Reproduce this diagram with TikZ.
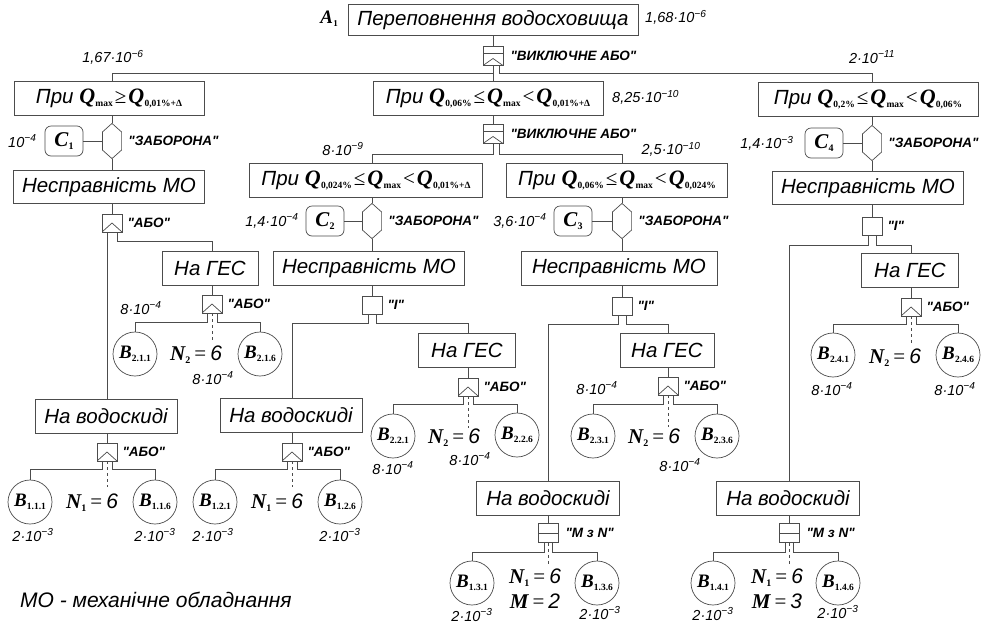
\documentclass[tikz,border=0pt]{standalone}
\usepackage{fontspec}
\setmainfont{Liberation Sans}
\newfontfamily\tnr{Liberation Serif}
\newfontfamily\gatefont{Liberation Sans}
\usetikzlibrary{positioning,calc}

% letter with subscript: {letter}{sub}{size}{subsize}
\newcommand{\sv}[4]{{\tnr\bfseries\itshape\fontsize{#3}{#3}\selectfont #1}\kern0.3pt\raisebox{-3pt}{\tnr\bfseries\upshape\fontsize{#4}{#4}\selectfont #2}}
\newcommand{\Qv}[1]{\sv{Q}{#1}{22}{9.5}}
\newcommand{\Bv}[1]{\sv{B}{#1}{19}{9.5}}
\newcommand{\Cv}[1]{\sv{C}{#1}{21}{10}}
\newcommand{\Nv}[1]{\sv{N}{#1}{21}{10}}
\newcommand{\Mv}{{\tnr\bfseries\itshape M}}
\newcommand{\rel}[1]{\kern2pt{\tnr\upshape\fontsize{21}{21}\selectfont #1}\kern2pt}
\newcommand{\eqv}[1]{\kern4pt{\tnr\upshape =}\kern4pt{\itshape #1}}
\newcommand{\pr}[2]{#1·10\textsuperscript{−#2}}

\tikzstyle{glabel} = [
    font=\gatefont\bfseries\itshape\fontsize{13.5}{15}\selectfont,
    inner sep=0pt
]

\begin{document}
\begin{tikzpicture}[x=1pt, y=-1pt,
        lin/.style={draw=black!70, line width=0.7pt},
        eventbox/.style={
            rectangle, lin,
            minimum height=34pt, inner sep=2pt,
            font=\itshape\fontsize{20.5}{22}\selectfont
        },
        condbox/.style={
            rectangle, rounded corners=6pt, lin,
            minimum width=38pt, minimum height=30pt, inner sep=0pt
        },
        basicev/.style={circle, lin, minimum size=44pt, inner sep=0pt},
        prob/.style={font=\itshape\fontsize{14.5}{16}\selectfont, inner sep=0pt},
        nlabel/.style={inner sep=0pt, align=center, font=\fontsize{21}{25}\selectfont},
        gatebox/.style={rectangle, lin, minimum width=20pt, minimum height=18pt, inner sep=0pt},
        andgate/.style={gatebox},
        orgate/.style={gatebox,
            path picture={\draw[lin] (path picture bounding box.south west) -- ([yshift=9pt]path picture bounding box.south) -- (path picture bounding box.south east);}
        },
        xorgate/.style={gatebox, minimum height=19pt,
            path picture={
                \draw[lin] ([yshift=-7pt]path picture bounding box.north west) -- ([yshift=-7pt]path picture bounding box.north east);
                \draw[lin] (path picture bounding box.south west) -- ([yshift=7pt]path picture bounding box.south) -- (path picture bounding box.south east);}
        },
        mngate/.style={gatebox, minimum height=19pt,
            path picture={\draw[lin] (path picture bounding box.west) -- (path picture bounding box.east);}
        },
        inhibit/.style={
            rectangle, minimum width=20pt, minimum height=36pt, inner sep=0pt,
            path picture={
                \draw[lin] ([yshift=-0.4pt]path picture bounding box.north)
                    -- ([xshift=-0.4pt,yshift=-9pt]path picture bounding box.north east)
                    -- ([xshift=-0.4pt,yshift=9pt]path picture bounding box.south east)
                    -- ([yshift=0.4pt]path picture bounding box.south)
                    -- ([xshift=0.4pt,yshift=9pt]path picture bounding box.south west)
                    -- ([xshift=0.4pt,yshift=-9pt]path picture bounding box.north west) -- cycle;}
        }
    ]
    \useasboundingbox[fill=white] (0,0) rectangle (984,630);

    % top event
    \node[eventbox, minimum width=290pt, minimum height=31pt] (top) at (493,20) {Переповнення водосховища};
    \node[anchor=east, inner sep=0pt] (a1) at (338,19) {\sv{A}{1}{19}{9}};
    \node[prob, anchor=west] (ptop) at (645,17) {\pr{1,68}{6}};
    \node[xorgate] (xo1) at (493,56) {};
    \node[glabel, right=7pt of xo1] {"ВИКЛЮЧНЕ АБО"};

    \node[eventbox, minimum width=190pt] (l1) at (109,98) {При \Qv{max}\rel{≥}\Qv{0,01\%+Δ}};
    \node[eventbox, minimum width=230pt] (m1) at (488,98) {При \Qv{0,06\%}\rel{≤}\Qv{max}\rel{<}\Qv{0,01\%+Δ}};
    \node[eventbox, minimum width=220pt] (r1) at (868,99) {При \Qv{0,2\%}\rel{≤}\Qv{max}\rel{<}\Qv{0,06\%}};
    \node[prob] at (113,57) {\pr{1,67}{6}};
    \node[prob, anchor=west] at (612,97) {\pr{8,25}{10}};
    \node[prob] at (872,57) {\pr{2}{11}};

    % left branch
    \node[inhibit] (hx1) at (112,141) {};
    \node[condbox] (c1) at (64,141) {\Cv{1}};
    \node[prob, left=8pt of c1] {10\textsuperscript{−4}};
    \node[glabel, right=6pt of hx1] {"ЗАБОРОНА"};
    \node[eventbox, minimum width=191pt, minimum height=33pt] (lf) at (109,187) {Несправність МО};
    \node[orgate] (or1) at (112,223) {};
    \node[glabel, right=5pt of or1] {"АБО"};
    \node[eventbox, minimum width=96pt] (lg) at (210,268) {На ГЕС};
    \node[orgate] (or2) at (212,304) {};
    \node[glabel, right=5pt of or2] {"АБО"};
    \node[basicev] (b211) at (135,354) {\Bv{2.1.1}};
    \node[basicev] (b216) at (260,354) {\Bv{2.1.6}};
    \node[nlabel] (n21) at (196,355) {\Nv{2}\eqv{6}};
    \node[prob] at (141,308) {\pr{8}{4}};
    \node[prob] at (213,378) {\pr{8}{4}};
    \node[eventbox, minimum width=142pt] (lv) at (106,416) {На водоскиді};
    \node[orgate] (or7) at (107,452) {};
    \node[glabel, right=5pt of or7] {"АБО"};
    \node[basicev] (b111) at (30,502) {\Bv{1.1.1}};
    \node[basicev] (b116) at (155,502) {\Bv{1.1.6}};
    \node[nlabel] (n11) at (92,503) {\Nv{1}\eqv{6}};
    \node[prob] at (33,535) {\pr{2}{3}};
    \node[prob] at (155,535) {\pr{2}{3}};

    % middle branch
    \node[xorgate] (xo2) at (493,134) {};
    \node[glabel, right=7pt of xo2] {"ВИКЛЮЧНЕ АБО"};
    \node[eventbox, minimum width=233pt] (m2l) at (366,180) {При \Qv{0,024\%}\rel{≤}\Qv{max}\rel{<}\Qv{0,01\%+Δ}};
    \node[eventbox, minimum width=221pt] (m2r) at (617,180) {При \Qv{0,06\%}\rel{≤}\Qv{max}\rel{<}\Qv{0,024\%}};
    \node[prob] at (343,149) {\pr{8}{9}};
    \node[prob] at (671,149) {\pr{2,5}{10}};

    \node[inhibit] (hx2) at (372,221) {};
    \node[condbox] (c2) at (325,221) {\Cv{2}};
    \node[prob, left=7pt of c2] {\pr{1,4}{4}};
    \node[glabel, right=6pt of hx2] {"ЗАБОРОНА"};
    \node[eventbox, minimum width=191pt] (mlf) at (369,268) {Несправність МО};
    \node[andgate] (and1) at (372,305) {};
    \node[glabel, right=5pt of and1] {"І"};
    \node[eventbox, minimum width=97pt] (mg) at (467,350) {На ГЕС};
    \node[orgate] (or4) at (468,387) {};
    \node[glabel, right=5pt of or4] {"АБО"};
    \node[basicev] (b221) at (393,436) {\Bv{2.2.1}};
    \node[basicev] (b226) at (517,435) {\Bv{2.2.6}};
    \node[nlabel] (n22) at (454,438) {\Nv{2}\eqv{6}};
    \node[prob] at (393,468) {\pr{8}{4}};
    \node[prob] at (470,459) {\pr{8}{4}};
    \node[eventbox, minimum width=142pt] (mlv) at (291,415) {На водоскиді};
    \node[orgate] (or3) at (292,452) {};
    \node[glabel, right=5pt of or3] {"АБО"};
    \node[basicev] (b121) at (215,502) {\Bv{1.2.1}};
    \node[basicev] (b126) at (340,502) {\Bv{1.2.6}};
    \node[nlabel] (n12) at (277,503) {\Nv{1}\eqv{6}};
    \node[prob] at (213,535) {\pr{2}{3}};
    \node[prob] at (340,535) {\pr{2}{3}};

    \node[inhibit] (hx3) at (622,221) {};
    \node[condbox] (c3) at (573,221) {\Cv{3}};
    \node[prob, left=7pt of c3] {\pr{3,6}{4}};
    \node[glabel, right=6pt of hx3] {"ЗАБОРОНА"};
    \node[eventbox, minimum width=196pt] (mrf) at (619,268) {Несправність МО};
    \node[andgate] (and2) at (622,306) {};
    \node[glabel, right=5pt of and2] {"І"};
    \node[eventbox, minimum width=94pt] (mrg) at (667,350) {На ГЕС};
    \node[orgate] (or5) at (668,386) {};
    \node[glabel, right=5pt of or5] {"АБО"};
    \node[basicev] (b231) at (593,436) {\Bv{2.3.1}};
    \node[basicev] (b236) at (717,436) {\Bv{2.3.6}};
    \node[nlabel] (n23) at (654,438) {\Nv{2}\eqv{6}};
    \node[prob] at (597,388) {\pr{8}{4}};
    \node[prob] at (680,465) {\pr{8}{4}};
    \node[eventbox, minimum width=143pt] (mrv) at (548,498) {На водоскиді};
    \node[mngate] (mn1) at (548,533) {};
    \node[glabel, right=7pt of mn1] {"M з N"};
    \node[basicev] (b131) at (472,583) {\Bv{1.3.1}};
    \node[basicev] (b136) at (597,583) {\Bv{1.3.6}};
    \node[nlabel] (n13) at (535,589) {\Nv{1}\eqv{6}\\\Mv\eqv{2}};
    \node[prob] at (472,615) {\pr{2}{3}};
    \node[prob] at (600,613) {\pr{2}{3}};

    % right branch
    \node[inhibit] (hx4) at (872,143) {};
    \node[condbox] (c4) at (824,143) {\Cv{4}};
    \node[prob, left=11pt of c4] {\pr{1,4}{3}};
    \node[glabel, right=6pt of hx4] {"ЗАБОРОНА"};
    \node[eventbox, minimum width=191pt, minimum height=33pt] (rf) at (868,188) {Несправність МО};
    \node[andgate] (and3) at (872,226) {};
    \node[glabel, right=5pt of and3] {"І"};
    \node[eventbox, minimum width=97pt] (rg) at (910,270) {На ГЕС};
    \node[orgate] (or6) at (911,307) {};
    \node[glabel, right=5pt of or6] {"АБО"};
    \node[basicev] (b241) at (833,355) {\Bv{2.4.1}};
    \node[basicev] (b246) at (958,355) {\Bv{2.4.6}};
    \node[nlabel] (n24) at (895,358) {\Nv{2}\eqv{6}};
    \node[prob] at (832,389) {\pr{8}{4}};
    \node[prob] at (955,389) {\pr{8}{4}};
    \node[eventbox, minimum width=143pt] (rv) at (788,498) {На водоскиді};
    \node[mngate] (mn2) at (789,533) {};
    \node[glabel, right=7pt of mn2] {"M з N"};
    \node[basicev] (b141) at (713,583) {\Bv{1.4.1}};
    \node[basicev] (b146) at (838,583) {\Bv{1.4.6}};
    \node[nlabel] (n14) at (777,589) {\Nv{1}\eqv{6}\\\Mv\eqv{3}};
    \node[prob] at (713,614) {\pr{2}{3}};
    \node[prob] at (838,612) {\pr{2}{3}};

    \node[anchor=west, inner sep=0pt, font=\itshape\fontsize{21}{22}\selectfont] (legend) at (20,600) {МО - механічне обладнання};

    % connectors: top
    \draw[lin] (top) -- (xo1);
    \draw[lin] (xo1) -- (xo1 |- m1.north);
    \draw[lin] (xo1.south) ++(0,7) -| (hx1 |- l1.north);
    \draw[lin] ([xshift=6pt]xo1.south) -- ++(0,7) -| (hx4 |- r1.north);

    % left
    \draw[lin] (l1.south -| hx1) -- (hx1);
    \draw[lin] (hx1) -- (hx1 |- lf.north);
    \draw[lin] (c1) -- (hx1);
    \draw[lin] (lf.south -| or1) -- (or1);
    \draw[lin] ([xshift=-5pt]or1.south) -- ([xshift=-5pt]or1.south |- lv.north);
    \draw[lin] ([xshift=5pt]or1.south) -- ++(0,9) -| (or2 |- lg.north);
    \draw[lin] (lg.south -| or2) -- (or2);
    \draw[lin] ([xshift=-5pt]or2.south) -- ++(0,9) -| (b211);
    \draw[lin] ([xshift=5pt]or2.south) -- ++(0,9) -| (b216);
    \draw[lin, dashed] (or2.south) -- ++(0,27);
    \draw[lin] (lv.south -| or7) -- (or7);
    \draw[lin] ([xshift=-5pt]or7.south) -- ++(0,8) -| (b111);
    \draw[lin] ([xshift=5pt]or7.south) -- ++(0,8) -| (b116);
    \draw[lin, dashed] (or7.south) -- ++(0,26);

    % middle
    \draw[lin] (m1.south -| xo2) -- (xo2);
    \draw[lin] (xo2.south) -- ++(0,10) -| (hx2 |- m2l.north);
    \draw[lin] ([xshift=6pt]xo2.south) -- ++(0,10) -| (hx3 |- m2r.north);

    \draw[lin] (m2l.south -| hx2) -- (hx2);
    \draw[lin] (hx2) -- (hx2 |- mlf.north);
    \draw[lin] (c2) -- (hx2);
    \draw[lin] (mlf.south -| and1) -- (and1);
    \draw[lin] ([xshift=-4pt]and1.south) -- ++(0,9) -| (or3 |- mlv.north);
    \draw[lin] ([xshift=4pt]and1.south) -- ++(0,9) -| (or4 |- mg.north);
    \draw[lin] (mg.south -| or4) -- (or4);
    \draw[lin] ([xshift=-5pt]or4.south) -- ++(0,8) -| (b221);
    \draw[lin] ([xshift=5pt]or4.south) -- ++(0,8) -| (b226);
    \draw[lin, dashed] (or4.south) -- ++(0,32);
    \draw[lin] (mlv.south -| or3) -- (or3);
    \draw[lin] ([xshift=-5pt]or3.south) -- ++(0,8) -| (b121);
    \draw[lin] ([xshift=5pt]or3.south) -- ++(0,8) -| (b126);
    \draw[lin, dashed] (or3.south) -- ++(0,26);

    \draw[lin] (m2r.south -| hx3) -- (hx3);
    \draw[lin] (hx3) -- (hx3 |- mrf.north);
    \draw[lin] (c3) -- (hx3);
    \draw[lin] (mrf.south -| and2) -- (and2);
    \draw[lin] ([xshift=-4pt]and2.south) -- ++(0,9) -| (mn1 |- mrv.north);
    \draw[lin] ([xshift=4pt]and2.south) -- ++(0,9) -| (or5 |- mrg.north);
    \draw[lin] (mrg.south -| or5) -- (or5);
    \draw[lin] ([xshift=-5pt]or5.south) -- ++(0,9) -| (b231);
    \draw[lin] ([xshift=5pt]or5.south) -- ++(0,9) -| (b236);
    \draw[lin, dashed] (or5.south) -- ++(0,32);
    \draw[lin] (mrv.south -| mn1) -- (mn1);
    \draw[lin] ([xshift=-4pt]mn1.south) -- ++(0,9) -| (b131);
    \draw[lin] ([xshift=4pt]mn1.south) -- ++(0,9) -| (b136);
    \draw[lin, dashed] (mn1.south) -- ++(0,22);

    % right
    \draw[lin] (r1.south -| hx4) -- (hx4);
    \draw[lin] (hx4) -- (hx4 |- rf.north);
    \draw[lin] (c4) -- (hx4);
    \draw[lin] (rf.south -| and3) -- (and3);
    \draw[lin] ([xshift=-4pt]and3.south) -- ++(0,10) -| (mn2 |- rv.north);
    \draw[lin] ([xshift=4pt]and3.south) -- ++(0,10) -| (or6 |- rg.north);
    \draw[lin] (rg.south -| or6) -- (or6);
    \draw[lin] ([xshift=-5pt]or6.south) -- ++(0,8) -| (b241);
    \draw[lin] ([xshift=5pt]or6.south) -- ++(0,8) -| (b246);
    \draw[lin, dashed] (or6.south) -- ++(0,27);
    \draw[lin] (rv.south -| mn2) -- (mn2);
    \draw[lin] ([xshift=-4pt]mn2.south) -- ++(0,9) -| (b141);
    \draw[lin] ([xshift=4pt]mn2.south) -- ++(0,9) -| (b146);
    \draw[lin, dashed] (mn2.south) -- ++(0,22);
\end{tikzpicture}
\end{document}
